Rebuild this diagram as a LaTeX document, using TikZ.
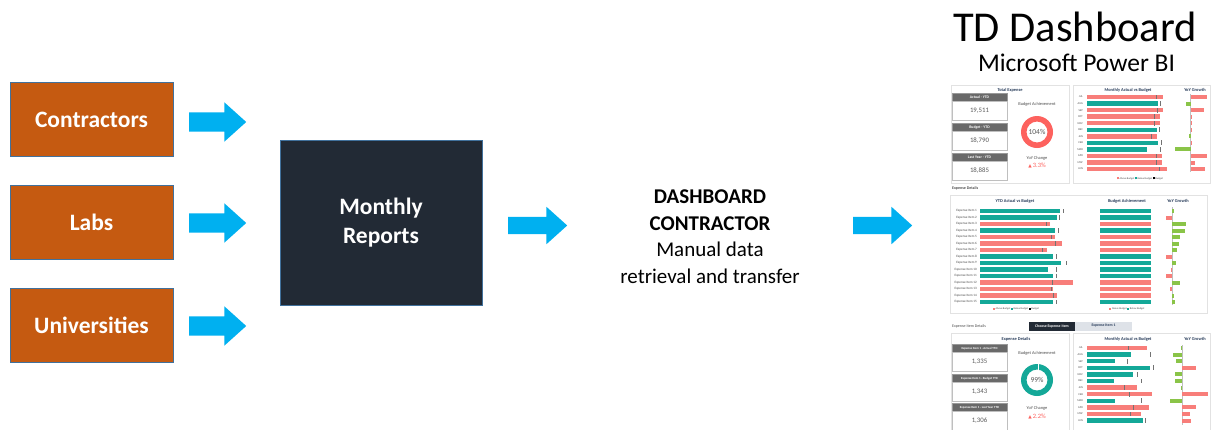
\documentclass[tikz,border=0pt]{standalone}
\usepackage{fontspec}
\setmainfont{Carlito}
\newfontfamily\dvfont{DejaVu Sans}
\usetikzlibrary{shapes.arrows,backgrounds}
\definecolor{boxorange}{RGB}{197,90,17}
\definecolor{boxborder}{RGB}{65,113,156}
\definecolor{darkbox}{RGB}{34,42,53}
\definecolor{arrowblue}{RGB}{0,176,240}
\definecolor{pbred}{RGB}{248,126,122}
\definecolor{pbteal}{RGB}{20,168,152}
\definecolor{pbgreen}{RGB}{138,196,72}
\definecolor{donutred}{RGB}{253,98,94}
\definecolor{cardgray}{RGB}{105,105,105}
\definecolor{paneledge}{RGB}{226,226,226}
\definecolor{titleblue}{RGB}{40,60,90}
\definecolor{btnlight}{RGB}{222,226,232}
\tikzset{
  srcbox/.style={draw=boxborder, line width=0.8pt, fill=boxorange, text=white,
    font=\fontsize{23.5}{28}\selectfont\bfseries, minimum width=163pt, minimum height=74pt, inner sep=0pt},
  reportbox/.style={draw=boxborder, line width=0.8pt, fill=darkbox, text=white, align=center,
    font=\fontsize{23.5}{29}\selectfont\bfseries, minimum width=202pt, minimum height=165pt, inner sep=0pt},
  blockarrow/.style={single arrow, fill=arrowblue, draw=none, minimum height=57pt, anchor=tail,
    single arrow head extend=10pt, single arrow tip angle=84, inner sep=0pt},
  midtext/.style={align=center, font=\fontsize{21}{26.5}\selectfont, text=black},
  panel/.style={draw=paneledge, fill=white, line width=0.5pt},
  tinytext/.style={font=\fontsize{3.4}{4}\selectfont, text=black!70, inner sep=0pt},
  paneltitle/.style={font=\fontsize{4.4}{5}\selectfont\bfseries, text=titleblue, inner sep=0pt},
  cardhead/.style={fill=cardgray, draw=black!40, line width=0.3pt},
  cardbody/.style={fill=white, draw=black!25, line width=0.3pt},
  cardlabel/.style={font=\fontsize{3.8}{4}\selectfont\bfseries, text=white, inner sep=0pt},
  cardvalue/.style={font=\fontsize{6.8}{7}\selectfont, text=black!65, inner sep=0pt},
  donuttext/.style={font=\fontsize{7.5}{8}\selectfont, text=black!65, inner sep=0pt},
  budgetmark/.style={fill=black!55},
}
\newcommand{\shaftrule}[1]{\rule{0pt}{#1}}
\begin{document}
\begin{tikzpicture}[x=1pt,y=-1pt]
\useasboundingbox (0,0) rectangle (1216,429);
\fill[white] (0,0) rectangle (1216,429);

% ---------------- left part ----------------
\node[srcbox] (contr) at (91.5,119.5) {Contractors};
\node[srcbox] (labs) at (91.5,222.5) {Labs};
\node[srcbox] (univ) at (91.5,325) {Universities};

\node[blockarrow] (a1) at (189,122) {\shaftrule{19pt}};
\node[blockarrow] (a2) at (189,223) {\shaftrule{19pt}};
\node[blockarrow] (a3) at (189,326) {\shaftrule{19pt}};

\node[reportbox] (rep) at (381,222.5) {Monthly\\Reports};
\begin{pgfonlayer}{background}
\foreach \k in {1,...,5}{
  \fill[black, opacity=0.06] ([shift={(-\k*0.8+1.5,-\k*0.8+1.5)}]rep.north west)
     rectangle ([shift={(\k*0.8+1.5,\k*0.8+1.5)}]rep.south east);
}
\end{pgfonlayer}

\node[blockarrow, minimum height=59pt] (a4) at (508,225.5) {\shaftrule{17pt}};
\node[midtext] (dc) at (710,236.5) {\textbf{DASHBOARD}\\\textbf{CONTRACTOR}\\Manual data\\retrieval and transfer};
\node[blockarrow, minimum height=59pt] (a5) at (853,225.5) {\shaftrule{17pt}};

% ---------------- titles ----------------
\node[font=\fontsize{42.5}{44}\selectfont, inner sep=0pt] (title) at (1075,27) {TD Dashboard};
\node[font=\fontsize{25.5}{27}\selectfont, inner sep=0pt] (subtitle) at (1076.5,63) {Microsoft Power BI};

% ================= DASHBOARD =================
% ---- section 1 ----
\draw[panel] (951,85) rectangle (1069,183);
\draw[panel] (1073,85) rectangle (1210,183);
\node[paneltitle] (s1t) at (1010,90) {Total Expense};
\foreach \top/\lab/\val in {93/Actual - YTD/19{,}511, 123/Budget - YTD/18{,}790, 153/Last Year - YTD/18{,}885}{
  \draw[cardhead] (952,\top) rectangle (1007,\top+8.5);
  \node[cardlabel] at (979.5,\top+4.3) {\lab};
  \draw[cardbody] (952,\top+8.5) rectangle (1007,\top+27);
  \node[cardvalue] at (979.5,\top+18) {\val};
}
\node[tinytext, font=\fontsize{4.4}{5}\selectfont] at (1037,104) {Budget Achievement};
\fill[donutred, even odd rule] (1037,132) circle (16pt) (1037,132) circle (10.5pt);
\node[donuttext] at (1037,132) {104\%};
\node[tinytext, font=\fontsize{4.4}{5}\selectfont] at (1037,158) {YoY Change};
\node[font=\fontsize{6.5}{7}\selectfont, text=donutred, inner sep=0pt] at (1037,166) {{\dvfont\fontsize{4.5}{5}\selectfont ▲}\,3.3\%};

\node[paneltitle] at (1128,90) {Monthly Actual vs Budget};
\node[paneltitle] at (1195,90) {YoY Growth};
\foreach \i/\m/\c/\e/\bm in {1/JUL/pbred/1163/1156, 2/AUG/pbteal/1158/1160, 3/SEP/pbred/1163/1157,
  4/OCT/pbred/1160/1154, 5/NOV/pbred/1160/1154, 6/DEC/pbteal/1157/1159, 7/JAN/pbred/1157/1151,
  8/FEB/pbteal/1158/1161, 9/MAR/pbteal/1147/1160, 10/APR/pbred/1162/1156, 11/MAY/pbred/1162/1156,
  12/JUN/pbred/1167/1159}{
  \pgfmathsetmacro\yy{97+(\i-1)*6.55}
  \node[tinytext, font=\fontsize{2.8}{3}\selectfont, anchor=east] at (1083,\yy) {\m};
  \fill[\c] (1087,\yy-2.2) rectangle (\e,\yy+2.2);
  \fill[budgetmark] (\bm-0.5,\yy-2.4) rectangle (\bm+0.5,\yy+2.4);
}
\draw[black!25, line width=0.3pt] (1190.5,94) -- (1190.5,172);
\foreach \i/\c/\v in {1/pbred/16, 2/pbgreen/-5, 3/pbred/13, 4/pbred/1, 5/pbred/1, 6/pbred/1,
  7/pbgreen/-2, 8/pbred/0.6, 9/pbgreen/-16, 10/pbred/16, 11/pbred/4, 12/pbred/14}{
  \pgfmathsetmacro\yy{97+(\i-1)*6.55}
  \fill[\c] (1190.5,\yy-2) rectangle (1190.5+\v,\yy+2);
}
\node[tinytext, font=\fontsize{2.6}{3}\selectfont] at (1140,178.5)
  {\textcolor{pbred}{\rule{2pt}{2pt}} Above Budget \textcolor{pbteal}{\rule{2pt}{2pt}} Below Budget \textcolor{black}{\rule{2pt}{2pt}} Budget};

% ---- section 2 ----
\node[tinytext, font=\fontsize{4}{5}\selectfont\bfseries, anchor=west] at (952,188.5) {Expense Details};
\draw[panel] (950,195) rectangle (1207,313);
\node[paneltitle] at (1015,201) {YTD Actual vs Budget};
\node[paneltitle] at (1127,201) {Budget Achievement};
\node[paneltitle] at (1178,201) {YoY Growth};
\foreach \i/\c/\e/\bm in {1/pbteal/1060/1063, 2/pbteal/1056.7/1059, 3/pbred/1050/1046, 4/pbteal/1055/1058,
  5/pbred/1055/1051, 6/pbred/1061.7/1055, 7/pbred/1046.7/1042, 8/pbteal/1053.3/1056, 9/pbteal/1060.7/1066,
  10/pbteal/1048.3/1056, 11/pbteal/1053.3/1056, 12/pbred/1072.7/1052, 13/pbred/1053.3/1051,
  14/pbred/1056.7/1053, 15/pbteal/1053.3/1056}{
  \pgfmathsetmacro\yy{211+(\i-1)*6.5}
  \node[tinytext, font=\fontsize{3.3}{4}\selectfont, anchor=east] at (977,\yy) {Expense Item \i};
  \fill[\c] (980,\yy-2.2) rectangle (\e,\yy+2.2);
  \fill[budgetmark] (\bm-0.5,\yy-2.4) rectangle (\bm+0.5,\yy+2.4);
  \fill[\c] (1100,\yy-2.2) rectangle (1151,\yy+2.2);
}
\draw[black!25, line width=0.3pt] (1172.3,207) -- (1172.3,305);
\foreach \i/\c/\v in {1/pbgreen/1.5, 2/pbred/-6, 3/pbgreen/14, 4/pbgreen/13, 5/pbgreen/8, 6/pbgreen/7,
  7/pbgreen/5, 8/pbred/-6, 9/pbgreen/4, 10/pbred/-1, 11/pbred/-6, 12/pbgreen/8, 13/pbred/-2.5,
  14/pbgreen/1.5, 15/pbgreen/3}{
  \pgfmathsetmacro\yy{211+(\i-1)*6.5}
  \fill[\c] (1172.3,\yy-2) rectangle (1172.3+\v,\yy+2);
}
\node[tinytext, font=\fontsize{2.6}{3}\selectfont] at (1016,309)
  {\textcolor{pbred}{\rule{2pt}{2pt}} Above Budget \textcolor{pbteal}{\rule{2pt}{2pt}} Below Budget \textcolor{black}{\rule{2pt}{2pt}} Budget};
\node[tinytext, font=\fontsize{2.6}{3}\selectfont] at (1127,309)
  {\textcolor{pbred}{\rule{2pt}{2pt}} Above Budget \textcolor{pbteal}{\rule{2pt}{2pt}} Below Budget};

% ---- section 3 ----
\node[tinytext, font=\fontsize{4}{5}\selectfont, anchor=west] at (952,326) {Expense Item Details};
\fill[darkbox] (1029,321.5) rectangle (1075,330.5);
\node[cardlabel] at (1052,326) {Choose Expense Item};
\fill[btnlight] (1075,321.5) rectangle (1132,330.5);
\node[cardlabel, text=titleblue] at (1103.5,326) {Expense Item 1};
\draw[panel] (951,333) rectangle (1069,432);
\draw[panel] (1073,333) rectangle (1210,432);
\node[paneltitle] at (1016,339) {Expense Details};
\foreach \top/\lab/\val in {344/Expense Item 1 - Actual YTD/1{,}335, 374/Expense Item 1 - Budget YTD/1{,}343,
  403/Expense Item 1 - Last Year YTD/1{,}306}{
  \draw[cardhead] (952,\top) rectangle (1007,\top+8.5);
  \node[cardlabel, font=\fontsize{3.1}{4}\selectfont\bfseries] at (979.5,\top+4.3) {\lab};
  \draw[cardbody] (952,\top+8.5) rectangle (1007,\top+27);
  \node[cardvalue] at (979.5,\top+18) {\val};
}
\node[tinytext, font=\fontsize{4.4}{5}\selectfont] at (1037,353) {Budget Achievement};
\fill[pbteal, even odd rule] (1037,380) circle (16pt) (1037,380) circle (10.5pt);
\draw[white, line width=0.6pt] (1037.8,364) -- (1037.8,369.5);
\node[donuttext] at (1037,380) {99\%};
\node[tinytext, font=\fontsize{4.4}{5}\selectfont] at (1037,408) {YoY Change};
\node[font=\fontsize{6.5}{7}\selectfont, text=donutred, inner sep=0pt] at (1037,417) {{\dvfont\fontsize{4.5}{5}\selectfont ▲}\,2.2\%};

\node[paneltitle] at (1128,339) {Monthly Actual vs Budget};
\node[paneltitle] at (1195,339) {YoY Growth};
\foreach \i/\m/\c/\e/\bm in {1/JUL/pbred/1146.7/1128, 2/AUG/pbteal/1130.7/1150, 3/SEP/pbteal/1115/1127,
  4/OCT/pbteal/1150/1153, 5/NOV/pbteal/1132.7/1137, 6/DEC/pbteal/1114/1141, 7/JAN/pbred/1136.7/1124,
  8/FEB/pbred/1151.7/1129, 9/MAR/pbteal/1115/1141, 10/APR/pbred/1149.3/1133, 11/MAY/pbred/1141/1130,
  12/JUN/pbteal/1142.7/1145}{
  \pgfmathsetmacro\yy{348+(\i-1)*6.6}
  \node[tinytext, font=\fontsize{2.8}{3}\selectfont, anchor=east] at (1083,\yy) {\m};
  \fill[\c] (1087,\yy-2.2) rectangle (\e,\yy+2.2);
  \fill[budgetmark] (\bm-0.5,\yy-2.4) rectangle (\bm+0.5,\yy+2.4);
}
\draw[black!25, line width=0.3pt] (1182.3,345) -- (1182.3,425);
\foreach \i/\c/\v in {1/pbgreen/-1, 2/pbgreen/-9, 3/pbgreen/-6, 4/pbred/14, 5/pbgreen/-7, 6/pbgreen/-7,
  7/pbgreen/-1, 8/pbred/26, 9/pbgreen/-12, 10/pbred/14, 11/pbred/8, 12/pbred/9}{
  \pgfmathsetmacro\yy{348+(\i-1)*6.6}
  \fill[\c] (1182.3,\yy-2) rectangle (1182.3+\v,\yy+2);
}
\end{tikzpicture}
\end{document}
